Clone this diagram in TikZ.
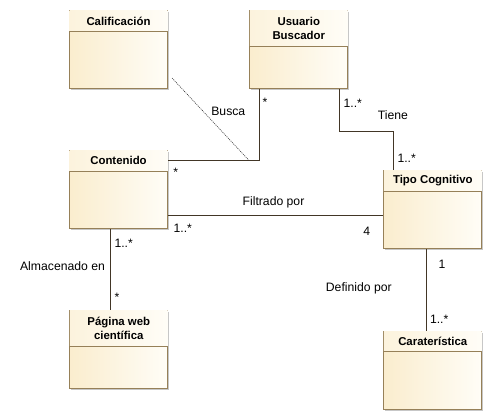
\documentclass[tikz,border=0pt]{standalone}
\usepackage{fontspec}
\setmainfont{Liberation Sans}
\usepackage{xcolor}
\usepackage{tikz}
\usetikzlibrary{positioning}
\definecolor{classborder}{RGB}{150,128,88}
\definecolor{classcream}{RGB}{250,237,206}
\definecolor{classwhite}{RGB}{255,253,247}
\definecolor{headcream}{RGB}{252,243,221}
\definecolor{assocline}{RGB}{66,54,38}
\tikzset{
  classbox/.style={draw=classborder,line width=1pt,left color=classcream,right color=classwhite,
    minimum width=98pt,minimum height=78pt,inner sep=0pt},
  classshadow/.style={fill=black!22},
  headshade/.style={left color=headcream,right color=classwhite},
  classedge/.style={draw=classborder,line width=1pt},
  classtitle/.style={font=\fontsize{11.4pt}{14.4pt}\selectfont\bfseries,align=center,inner sep=0pt},
  assoc/.style={draw=assocline,line width=1pt},
  assocdot/.style={draw=black!80,line width=0.6pt,dash pattern=on 1pt off 1pt},
  multlabel/.style={font=\fontsize{12.2pt}{14pt}\selectfont,anchor=base,inner sep=0pt},
}
% #1 name, #2 left, #3 top, #4 header height, #5 title
\newcommand{\umlclass}[5]{%
  \fill[classshadow] (#2+2,#3+2) rectangle ++(98,78);%
  \node[classbox,anchor=north west] (#1) at (#2,#3) {};%
  \shade[headshade] ([xshift=.6pt,yshift=-.6pt]#1.north west) rectangle ([xshift=-.6pt,yshift=-#4pt]#1.north east);%
  \draw[classedge] ([yshift=-#4pt]#1.north west) -- ([yshift=-#4pt]#1.north east);%
  \node[classtitle] (#1-title) at ([yshift=-#4pt/2]#1.north) {#5};%
}
\begin{document}
\begin{tikzpicture}[x=1pt,y=-1pt]
  \useasboundingbox (0,0) rectangle (493,420);
  \umlclass{calif}{69}{10}{22}{Calificación}
  \umlclass{ub}{249.3}{10}{36.7}{Usuario\\Buscador}
  \umlclass{cont}{69}{150}{21.7}{Contenido}
  \umlclass{tc}{383.3}{170}{21.7}{Tipo Cognitivo}
  \umlclass{car}{383.3}{330.7}{21}{Caraterística}
  \umlclass{pag}{69.3}{310}{36.7}{Página web\\científica}
  % associations
  \draw[assoc] ([xshift=10pt]ub.south west) |- ([yshift=-10pt]cont.north east);
  \coordinate (buscapt) at ([xshift=80.6pt,yshift=-10pt]cont.north east);
  \coordinate (califpt) at ([xshift=4pt,yshift=11pt]calif.south east);
  \draw[assocdot] (califpt) -- (buscapt);
  \draw[assoc] ([xshift=-8.4pt]ub.south east) -- ++(0,42) -| ([xshift=10pt]tc.north west);
  \draw[assoc] ([yshift=-65pt]cont.north east) -- ([yshift=-65pt]cont.north east -| tc.west);
  \draw[assoc] ([xshift=43.4pt]tc.south west) -- ([xshift=43.4pt]car.north west);
  \draw[assoc] ([xshift=41pt]cont.south west) -- ([xshift=41pt]cont.south west |- pag.north);
  % labels
  \node[multlabel] (l-busca) at (228.3,115.7) {Busca};
  \node[multlabel] (m-ub1) at (265,106.3) {*};
  \node[multlabel] (m-cont1) at (175.7,176.6) {*};
  \node[multlabel] (m-ub2) at (352.8,107.3) {1..*};
  \node[multlabel] (l-tiene) at (393,120) {Tiene};
  \node[multlabel] (m-tc1) at (406.7,162.3) {1..*};
  \node[multlabel] (l-filt) at (273.5,205.7) {Filtrado por};
  \node[multlabel] (m-cont2) at (182.8,232.3) {1..*};
  \node[multlabel] (m-tc2) at (366.7,235.7) {4};
  \node[multlabel] (m-tc3) at (442,268.3) {1};
  \node[multlabel] (l-def) at (358.8,291) {Definido por};
  \node[multlabel] (m-car) at (439.2,323.3) {1..*};
  \node[multlabel] (m-cont3) at (123.7,247.3) {1..*};
  \node[multlabel] (l-alm) at (62.5,270.7) {Almacenado en};
  \node[multlabel] (m-pag) at (117,301) {*};
\end{tikzpicture}
\end{document}
